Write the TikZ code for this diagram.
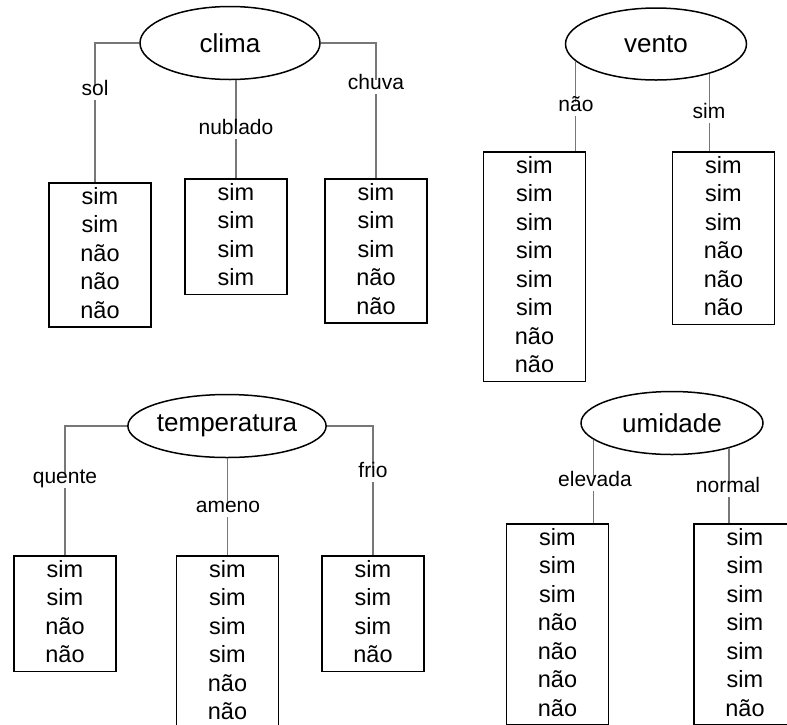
\documentclass[tikz,border=0pt]{standalone}
\usepackage{fontspec}
\setmainfont{Liberation Sans}
\usetikzlibrary{shapes.geometric}

\definecolor{edgegray}{HTML}{777777}
\newcommand{\toprow}{\rule{0pt}{20.5pt}}

\tikzset{
    attr/.style = {ellipse, draw, line width = 1.5pt, inner sep = 0pt,
        font = \fontsize{26}{30}\selectfont},
    leaf/.style = {rectangle, draw, line width = 1.6pt, anchor = north,
        minimum width = 102pt, inner xsep = 0pt, inner ysep = 1pt, align = center,
        font = \fontsize{23.5}{28.5}\selectfont,
        execute at end node = \rule[-7.5pt]{0pt}{7.5pt}},
    branch/.style = {draw = edgegray, line width = 1.4pt},
    val/.style = {fill = white, inner xsep = 1pt, inner ysep = 2pt,
        text height = 0.75em, text depth = 0.2em,
        font = \fontsize{21}{24}\selectfont}
}

\begin{document}
\begin{tikzpicture}[x = 1pt, y = -1pt]
        \useasboundingbox (0,0) rectangle (787,724);
        \clip (0,0) rectangle (787,724);

        % clima
        \node[attr, minimum width = 180pt, minimum height = 73pt] (clima) at (230,43) {clima};
        \node[leaf] (solbox) at (100,182) {\toprow sim\\sim\\não\\não\\não};
        \node[leaf] (nubladobox) at (236,178) {\toprow sim\\sim\\sim\\sim};
        \node[leaf] (chuvabox) at (376,178) {\toprow sim\\sim\\sim\\não\\não};
        \draw[branch] (clima.west) -| ([xshift = -5pt]solbox.north);
        \draw[branch] (nubladobox.north) -- (nubladobox.north |- clima.south);
        \draw[branch] (clima.east) -| (chuvabox.north);
        \node[val] (sol) at (95,93) {sol};
        \node[val] (nublado) at (236,132) {nublado};
        \node[val] (chuva) at (376,87) {chuva};

        % vento
        \node[attr, minimum width = 181pt, minimum height = 72pt] (vento) at (656,44) {vento};
        \node[leaf] (naobox) at (534.5,151) {\toprow sim\\sim\\sim\\sim\\sim\\sim\\não\\não};
        \node[leaf] (simbox) at (723.5,151) {\toprow sim\\sim\\sim\\não\\não\\não};
        \draw[branch] (vento.192) -- (vento.192 |- naobox.north);
        \draw[branch] (vento.331) -- (vento.331 |- simbox.north);
        \node[val] (nao) at (576,109) {não};
        \node[val] (sim) at (709,116) {sim};

        % temperatura
        \node[attr, minimum width = 180pt, minimum height = 63pt] (temperatura) at (227,426) {temperatura};
        \node[leaf] (quentebox) at (65,555) {\toprow sim\\sim\\não\\não};
        \node[leaf] (amenobox) at (227.5,555) {\toprow sim\\sim\\sim\\sim\\não\\não};
        \node[leaf] (friobox) at (373,555) {\toprow sim\\sim\\sim\\não};
        \draw[branch] (temperatura.west) -| (quentebox.north);
        \draw[branch] (amenobox.north) -- (amenobox.north |- temperatura.south);
        \draw[branch] (temperatura.east) -| (friobox.north);
        \node[val] (quente) at (65,481) {quente};
        \node[val] (ameno) at (228,510) {ameno};
        \node[val] (frio) at (373,475) {frio};

        % umidade
        \node[attr, minimum width = 182pt, minimum height = 63pt] (umidade) at (672,423) {umidade};
        \node[leaf] (elevadabox) at (557.5,523) {\toprow sim\\sim\\sim\\não\\não\\não\\não};
        \node[leaf] (normalbox) at (745,523) {\toprow sim\\sim\\sim\\sim\\sim\\sim\\não};
        \draw[branch] (umidade.192) -- (umidade.192 |- elevadabox.north);
        \draw[branch] (umidade.336) -- (umidade.336 |- normalbox.north);
        \node[val] (elevada) at (595,484) {elevada};
        \node[val] (normal) at (728,490) {normal};
    \end{tikzpicture}
\end{document}
